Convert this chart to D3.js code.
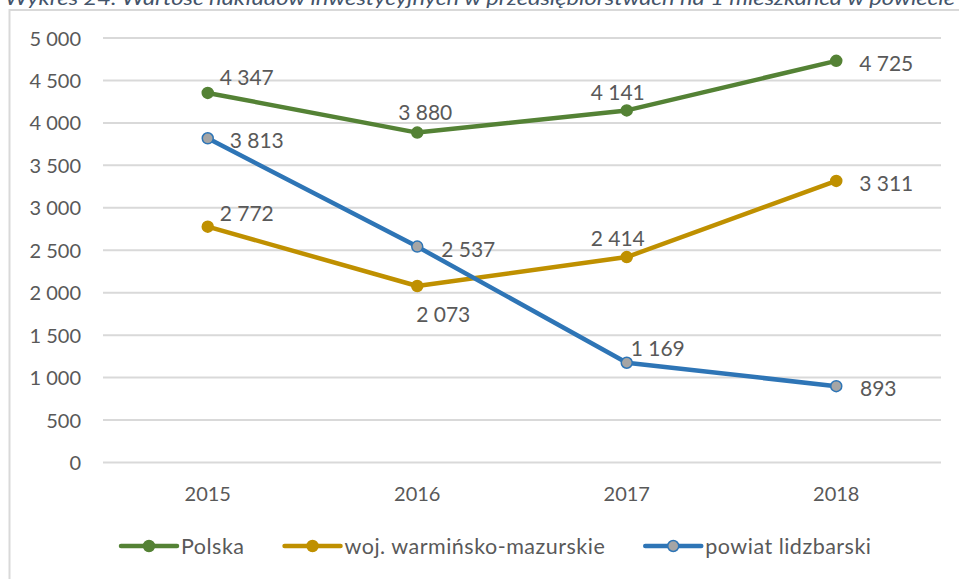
<!DOCTYPE html>
<meta charset="utf-8">
<style>
body {
  margin: 0;
  background-color: #ffffff;
}
svg text {
  font-family: Lato, "Open Sans", sans-serif;
  fill: #595959;
}
.grid line {
  stroke: #D9D9D9;
  stroke-width: 2px;
}
.grid path {
  display: none;
}
.line {
  fill: none;
  stroke-width: 4.5px;
  stroke-linejoin: round;
  stroke-linecap: round;
}
</style>
<svg width="959" height="579"></svg>
<script src="https://d3js.org/d3.v7.min.js"></script>
<script>
var title = "Wykres 24. Wartość nakładów inwestycyjnych w przedsiębiorstwach na 1 mieszkańca w powiecie";
var years = ["2015", "2016", "2017", "2018"];
var seriesNames = ["Polska", "woj. warmińsko-mazurskie", "powiat lidzbarski"];
var polska = [4347, 3880, 4141, 4725];
var warminsko = [2772, 2073, 2414, 3311];
var lidzbarski = [3813, 2537, 1169, 893];
var yTicks = [0, 500, 1000, 1500, 2000, 2500, 3000, 3500, 4000, 4500, 5000];

// label offsets (dx, dy) from each point, per series
var labelOffsets = [
  [[39, -16], [8, -21], [-9, -19], [50, 2]],
  [[39, -14], [26, 27], [-9, -20], [50, 2]],
  [[49, 1], [51, 2], [31, -15], [42, 1]]
];
var colors = ["#548235", "#BF9000", "#2E75B6"];
var markerFill = ["#548235", "#BF9000", "#A5A5A5"];

var svg = d3.select("svg");
var fmt = function(v) { return d3.format(",")(v).replace(/,/g, " "); };

// title, clipped at the top
svg.append("text")
  .attr("x", 5)
  .attr("y", 5)
  .attr("textLength", 950)
  .attr("lengthAdjust", "spacingAndGlyphs")
  .style("font-style", "italic")
  .style("font-size", "20px")
  .style("fill", "#44546A")
  .text(title);

// chart frame
svg.append("rect")
  .attr("x", 9.5).attr("y", 10)
  .attr("width", 1000).attr("height", 600)
  .attr("fill", "none")
  .attr("stroke", "#D9D9D9")
  .attr("stroke-width", 2);

var x = d3.scalePoint().domain(years).range([103, 941]).padding(0.5);
var y = d3.scaleLinear().domain([0, 5000]).range([462, 37.5]);

svg.append("g")
  .attr("class", "grid")
  .attr("transform", "translate(103,0)")
  .call(d3.axisLeft(y).tickValues(yTicks).tickSize(-838).tickFormat(""));

svg.append("g")
  .selectAll("text")
  .data(yTicks)
  .enter().append("text")
  .attr("x", 81)
  .attr("y", function(d) { return y(d); })
  .attr("text-anchor", "end")
  .attr("dominant-baseline", "central")
  .style("font-size", "20px")
  .text(fmt);

svg.append("g")
  .selectAll("text")
  .data(years)
  .enter().append("text")
  .attr("x", function(d) { return x(d); })
  .attr("y", 493)
  .attr("text-anchor", "middle")
  .attr("dominant-baseline", "central")
  .style("font-size", "20px")
  .text(function(d) { return d; });

var allSeries = [polska, warminsko, lidzbarski];
var line = d3.line()
  .x(function(d, i) { return x(years[i]); })
  .y(function(d) { return y(d); });

allSeries.forEach(function(values, s) {
  var g = svg.append("g");
  g.append("path")
    .datum(values)
    .attr("class", "line")
    .attr("stroke", colors[s])
    .attr("d", line);
  g.selectAll("circle")
    .data(values)
    .enter().append("circle")
    .attr("cx", function(d, i) { return x(years[i]); })
    .attr("cy", function(d) { return y(d); })
    .attr("r", 5.5)
    .attr("fill", markerFill[s])
    .attr("stroke", colors[s])
    .attr("stroke-width", 1.5);
  g.selectAll("text")
    .data(values)
    .enter().append("text")
    .attr("x", function(d, i) { return x(years[i]) + labelOffsets[s][i][0]; })
    .attr("y", function(d, i) { return y(d) + labelOffsets[s][i][1]; })
    .attr("text-anchor", "middle")
    .attr("dominant-baseline", "central")
    .style("font-size", "21px")
    .text(fmt);
});

// legend
var lx = 121;
seriesNames.forEach(function(name, s) {
  var g = svg.append("g").attr("transform", "translate(" + lx + ",546)");
  g.append("line")
    .attr("x1", 0).attr("x2", 56)
    .attr("stroke", colors[s])
    .attr("stroke-width", 4.5)
    .attr("stroke-linecap", "round");
  g.append("circle")
    .attr("cx", 28).attr("r", 5.5)
    .attr("fill", markerFill[s])
    .attr("stroke", colors[s])
    .attr("stroke-width", 1.5);
  var t = g.append("text")
    .attr("x", 60)
    .attr("dominant-baseline", "central")
    .style("font-size", "21.5px")
    .style("letter-spacing", "0.5px")
    .text(name);
  lx += 60 + t.node().getComputedTextLength() + 40;
});
</script>
